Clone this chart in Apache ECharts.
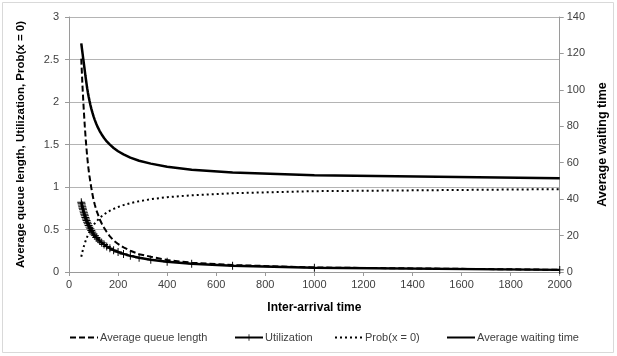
<!DOCTYPE html>
<html>
<head>
<meta charset="utf-8">
<script src="https://cdn.jsdelivr.net/npm/echarts@6/dist/echarts.min.js"></script>
<style>
  html, body { margin: 0; padding: 0; background: #fff; }
  #chart { width: 617px; height: 356px; }
</style>
</head>
<body>
<div id="chart"></div>
<script>
// inter-arrival times (x values)
var interArrival = [50, 51.3, 52.6, 54.1, 55.6, 57.1, 58.8, 60.6, 62.5, 64.5, 66.7, 69.0, 71.4, 74.1, 76.9, 80, 83.3, 87.0, 90.9, 95.2,
  100, 105.3, 111.1, 117.6, 125, 133.3, 142.9, 153.8, 166.7, 181.8, 200, 222.2, 250, 285.7, 333.3, 400, 500, 666.7, 1000, 2000];

var queueLen = [2.51, 2.42, 2.34, 2.24, 2.15, 2.07, 1.98, 1.89, 1.80, 1.71, 1.62, 1.53, 1.45, 1.36, 1.28, 1.20, 1.13, 1.06, 0.99, 0.92,
  0.85, 0.79, 0.73, 0.68, 0.62, 0.57, 0.52, 0.47, 0.42, 0.37, 0.33, 0.29, 0.25, 0.21, 0.18, 0.14, 0.11, 0.082, 0.053, 0.026];

var utilization = [0.821, 0.803, 0.787, 0.768, 0.751, 0.734, 0.716, 0.698, 0.680, 0.661, 0.642, 0.624, 0.605, 0.586, 0.567, 0.548, 0.528, 0.508, 0.489, 0.469,
  0.448, 0.428, 0.407, 0.387, 0.365, 0.344, 0.323, 0.301, 0.279, 0.257, 0.235, 0.213, 0.190, 0.167, 0.144, 0.120, 0.097, 0.073, 0.049, 0.025];

var probZero = [0.179, 0.197, 0.213, 0.232, 0.249, 0.266, 0.284, 0.302, 0.321, 0.339, 0.358, 0.376, 0.395, 0.414, 0.433, 0.452, 0.472, 0.492, 0.511, 0.531,
  0.552, 0.572, 0.593, 0.614, 0.635, 0.656, 0.677, 0.699, 0.721, 0.743, 0.765, 0.787, 0.810, 0.833, 0.856, 0.880, 0.903, 0.927, 0.951, 0.975];

var waitTime = [125.5, 124.2, 122.8, 121.2, 119.6, 118.0, 116.3, 114.4, 112.4, 110.3, 108.0, 105.7, 103.4, 100.9, 98.6, 96.3, 94.1, 91.8, 89.7, 87.6,
  85.4, 83.4, 81.4, 79.4, 77.4, 75.5, 73.6, 71.7, 69.9, 68.1, 66.3, 64.6, 62.8, 61.1, 59.5, 57.8, 56.2, 54.6, 53.1, 51.5];

var seriesNames = ['Average queue length', 'Utilization', 'Prob(x = 0)', 'Average waiting time'];

function pairs(ys) {
  return interArrival.map(function (x, i) { return [x, ys[i]]; });
}

var font = 'Liberation Sans';
var axisGray = '#9a9a9a';
var crossPath = 'path://M4.4,0h1.2v4.4h4.4v1.2h-4.4v4.4h-1.2v-4.4h-4.4v-1.2h4.4z';

var chart = echarts.init(document.getElementById('chart'), null, { renderer: 'canvas' });

function legendAt(name, left, hideSymbol) {
  var l = {
    data: [name], left: left, top: 327,
    itemWidth: 28, itemHeight: 8, itemGap: 4,
    textStyle: { fontFamily: font, fontSize: 11, color: '#404040', padding: [0, 0, 0, -3] }
  };
  if (hideSymbol) l.itemStyle = { opacity: 0 };
  return l;
}

var option = {
  animation: false,
  backgroundColor: '#fff',
  textStyle: { fontFamily: font },
  graphic: [{
    type: 'rect',
    shape: { x: 2.5, y: 2.5, width: 611, height: 350 },
    style: { fill: 'none', stroke: '#d9d9d9', lineWidth: 1 },
    silent: true
  }],
  grid: { left: 69, right: 46, top: 17, bottom: 84 },
  xAxis: {
    type: 'value',
    min: 0, max: 2000, interval: 200,
    name: 'Inter-arrival time',
    nameLocation: 'middle',
    nameGap: 30,
    nameTextStyle: { fontFamily: font, fontWeight: 'bold', fontSize: 12, color: '#000' },
    axisLine: { lineStyle: { color: axisGray } },
    axisTick: { show: true, length: 4, lineStyle: { color: axisGray } },
    axisLabel: { fontFamily: font, fontSize: 11, color: '#404040', margin: 7, formatter: function (v) { return String(v); } },
    splitLine: { show: false }
  },
  yAxis: [{
    type: 'value',
    min: 0, max: 3, interval: 0.5,
    name: 'Average queue length, Utilization, Prob(x = 0)',
    nameLocation: 'middle',
    nameGap: 42,
    nameTextStyle: { fontFamily: font, fontWeight: 'bold', fontSize: 11.5, color: '#000' },
    axisLine: { show: true, lineStyle: { color: axisGray } },
    axisTick: { show: true, length: 4, lineStyle: { color: axisGray } },
    axisLabel: { fontFamily: font, fontSize: 11, color: '#404040', margin: 10 },
    splitLine: { show: true, lineStyle: { color: '#b4b4b4' } }
  }, {
    type: 'value',
    min: 0, max: 140, interval: 20,
    name: 'Average waiting time',
    nameLocation: 'middle',
    nameGap: 35,
    nameRotate: 90,
    nameTextStyle: { fontFamily: font, fontWeight: 'bold', fontSize: 12.5, color: '#000' },
    axisLine: { show: true, lineStyle: { color: axisGray } },
    axisTick: { show: true, length: 4, lineStyle: { color: axisGray } },
    axisLabel: { fontFamily: font, fontSize: 11, color: '#404040', margin: 7 },
    splitLine: { show: false }
  }],
  legend: [
    legendAt(seriesNames[0], 64, true),
    legendAt(seriesNames[1], 229, false),
    legendAt(seriesNames[2], 329, true),
    legendAt(seriesNames[3], 441, true)
  ],
  series: [{
    name: seriesNames[0],
    type: 'line',
    symbol: 'none',
    data: pairs(queueLen),
    lineStyle: { color: '#000', width: 2, type: [6, 3] },
    itemStyle: { color: '#000' },
    z: 2
  }, {
    name: seriesNames[1],
    type: 'line',
    symbol: crossPath,
    symbolSize: 8,
    showAllSymbol: true,
    data: pairs(utilization),
    lineStyle: { color: '#000', width: 2.5 },
    itemStyle: { color: '#000' },
    z: 3
  }, {
    name: seriesNames[2],
    type: 'line',
    symbol: 'none',
    data: pairs(probZero),
    lineStyle: { color: '#000', width: 2, type: [2, 3] },
    itemStyle: { color: '#000' },
    z: 2
  }, {
    name: seriesNames[3],
    type: 'line',
    yAxisIndex: 1,
    symbol: 'none',
    data: pairs(waitTime),
    lineStyle: { color: '#000', width: 2.5 },
    itemStyle: { color: '#000' },
    z: 4
  }]
};

chart.setOption(option);
</script>
</body>
</html>
